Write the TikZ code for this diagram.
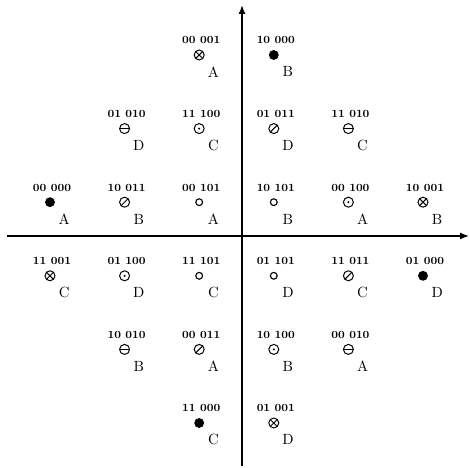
\documentclass[tikz,border=0pt]{standalone}
\usepackage{tikz}
\usetikzlibrary{arrows.meta}

\begin{document}
\begin{tikzpicture}[x=1.865cm,y=1.84cm,
 symb/.style={circle,draw,line width=0.7pt,inner sep=0pt,minimum size=0.25cm},
 full/.style={fill,minimum size=0.22cm},
 ring/.style={minimum size=0.17cm,line width=0.8pt},
 odot/.style={path picture={\fill (path picture bounding box.center) circle (0.8pt);}},
 otimes/.style={path picture={\draw[line width=0.7pt] (path picture bounding box.north west) -- (path picture bounding box.south east) (path picture bounding box.north east) -- (path picture bounding box.south west);}},
 oslash/.style={path picture={\draw[line width=0.7pt] (path picture bounding box.south west) -- (path picture bounding box.north east);}},
 ominus/.style={path picture={\draw[line width=0.7pt] (path picture bounding box.west) -- (path picture bounding box.east);}},
 codetxt/.style={inner sep=0pt,font=\fontsize{7.8}{8}\selectfont\bfseries},
 tagtxt/.style={inner sep=0pt,font=\fontsize{10.5}{12}\selectfont},
 axis/.style={line width=1pt,-{Latex[length=0.22cm,width=0.17cm]}}]
\useasboundingbox (-3.170,-3.111) rectangle (3.130,3.247);
% axes
\coordinate (west) at (-3.076,0.041);
\coordinate (east) at (3.117,0.041);
\coordinate (south) at (0.074,-3.09);
\coordinate (north) at (0.074,3.179);
\draw[axis] (west) -- (east);
\draw[axis] (south) -- (north);
% the 24 points: column/row/code/symbol/letter
\foreach \cl/\rw/\code/\kind/\tag [count=\n] in {
 3/1/00 001/otimes/A, 4/1/10 000/full/B,
 2/2/01 010/ominus/D, 3/2/11 100/odot/C, 4/2/01 011/oslash/D, 5/2/11 010/ominus/C,
 1/3/00 000/full/A, 2/3/10 011/oslash/B, 3/3/00 101/ring/A, 4/3/10 101/ring/B, 5/3/00 100/odot/A, 6/3/10 001/otimes/B,
 1/4/11 001/otimes/C, 2/4/01 100/odot/D, 3/4/11 101/ring/C, 4/4/01 101/ring/D, 5/4/11 011/oslash/C, 6/4/01 000/full/D,
 2/5/10 010/ominus/B, 3/5/00 011/oslash/A, 4/5/10 100/odot/B, 5/5/00 010/ominus/A,
 3/6/11 000/full/C, 4/6/01 001/otimes/D} {
 \node[symb,\kind] (sym\n) at ({\cl-3.5},{3.5-\rw}) {};
 \node[codetxt] (code\n) at ({\cl-3.5+0.027},{3.5-\rw+0.2}) {\code};
 \node[tagtxt] (tag\n) at ({\cl-3.5+0.19},{3.5-\rw-0.23}) {\tag};
}
\end{tikzpicture}
\end{document}
